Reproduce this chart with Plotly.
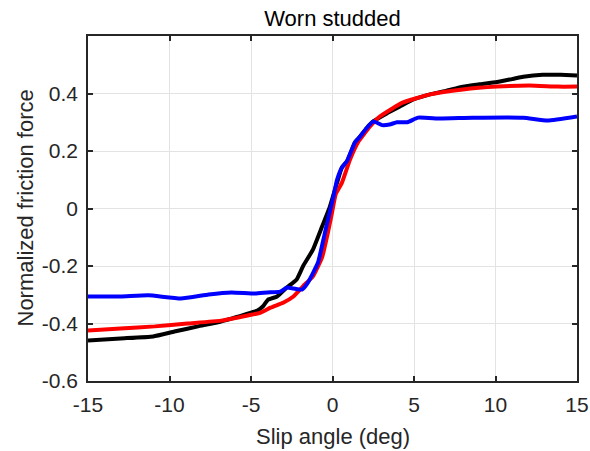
import plotly.graph_objects as go

# Slip angle (deg) / normalized friction force
black_x = [-15, -13, -11, -9.7, -8.25, -6.84, -5.4, -4.6, -4.26, -3.95, -3.4, -2.8, -2.2, -1.8, -1.2,
           -0.64, -0.2, 0.28, 0.58, 0.89, 1.38, 1.69, 2.1, 2.5, 3.3, 4.14, 5.0, 5.98, 7.0, 8.0, 9.0,
           10.1, 11.0, 11.7, 12.9, 14.0, 15.0]
black_y = [-0.459, -0.452, -0.445, -0.428, -0.41, -0.393, -0.369, -0.355, -0.34, -0.317, -0.306,
           -0.275, -0.247, -0.2, -0.143, -0.063, 0.0, 0.09, 0.143, 0.163, 0.23, 0.25, 0.28, 0.303,
           0.33, 0.355, 0.38, 0.397, 0.41, 0.424, 0.432, 0.44, 0.45, 0.458, 0.465, 0.465, 0.463]

red_x = [-15, -13, -10.9, -8.9, -6.84, -5.2, -4.4, -3.8, -3.0, -2.4, -1.8, -1.2, -0.64, -0.28,
         -0.05, 0.2, 0.58, 1.07, 1.56, 2.3, 2.9, 4.3, 6.0, 8.0, 10.1, 12.1, 13.8, 15.0]
red_y = [-0.424, -0.417, -0.41, -0.40, -0.39, -0.372, -0.362, -0.345, -0.327, -0.306, -0.27,
         -0.236, -0.17, -0.083, -0.02, 0.05, 0.09, 0.17, 0.23, 0.285, 0.32, 0.368, 0.397, 0.414,
         0.424, 0.428, 0.424, 0.424]

blue_x = [-15, -13, -11.3, -9.3, -7.6, -6.2, -4.75, -4.0, -3.2, -2.8, -2.4, -1.87, -1.5, -0.89,
          -0.46, -0.2, 0.05, 0.28, 0.58, 0.89, 1.38, 1.69, 2.1, 2.5, 3.04, 3.5, 3.95, 4.6, 5.25,
          6.6, 8.6, 11.7, 13.2, 15.0]
blue_y = [-0.306, -0.306, -0.302, -0.313, -0.299, -0.292, -0.296, -0.292, -0.289, -0.275, -0.278,
          -0.282, -0.257, -0.188, -0.083, -0.02, 0.04, 0.10, 0.143, 0.165, 0.23, 0.25, 0.28, 0.303,
          0.29, 0.292, 0.30, 0.30, 0.316, 0.313, 0.316, 0.316, 0.306, 0.32]

x_ticks = [-15, -10, -5, 0, 5, 10, 15]
y_ticks = [-0.6, -0.4, -0.2, 0, 0.2, 0.4]
y_tick_text = ["-0.6", "-0.4", "-0.2", "0", "0.2", "0.4"]

fig = go.Figure()
for xs, ys, col in [(black_x, black_y, "black"), (red_x, red_y, "#ff0000"), (blue_x, blue_y, "#0000ff")]:
    fig.add_trace(go.Scatter(x=xs, y=ys, mode="lines",
                             line=dict(color=col, width=4, shape="spline", smoothing=0.4),
                             showlegend=False))

font = "Liberation Sans, Arial, Helvetica, sans-serif"
txt = "#262626"
axis_common = dict(showgrid=True, gridcolor="#e3e3e3", gridwidth=1, zeroline=False,
                   showline=True, linecolor=txt, linewidth=1.5, mirror="ticks",
                   ticks="inside", ticklen=5, tickwidth=1.5, tickcolor=txt,
                   automargin=False,
                   tickfont=dict(family=font, size=21, color=txt))

fig.update_xaxes(range=[-15, 15], tickvals=x_ticks, ticktext=[str(v) for v in x_ticks],
                 ticklabelstandoff=4, **axis_common)
fig.update_yaxes(range=[-0.6, 0.6], tickvals=y_ticks, ticktext=y_tick_text,
                 ticklabelstandoff=4, **axis_common)

fig.update_layout(
    width=590, height=451,
    margin=dict(l=88, r=13, t=36, b=70),
    paper_bgcolor="white", plot_bgcolor="white",
    title=dict(text="Worn studded", x=(88 + 577) / 2 / 590, xanchor="center",
               y=1 - 18 / 451, yanchor="middle", yref="container",
               font=dict(family=font, size=22, color="black")),
    annotations=[
        dict(text="Slip angle (deg)", xref="paper", yref="paper", x=0.5, y=-(436 - 381) / 345,
             xanchor="center", yanchor="middle", showarrow=False,
             font=dict(family=font, size=22, color=txt)),
        dict(text="Normalized friction force", xref="paper", yref="paper",
             x=-(88 - 25) / 489, y=0.5, xanchor="center", yanchor="middle", textangle=-90,
             showarrow=False, font=dict(family=font, size=22, color=txt)),
    ],
)

fig.write_html("out.html")
